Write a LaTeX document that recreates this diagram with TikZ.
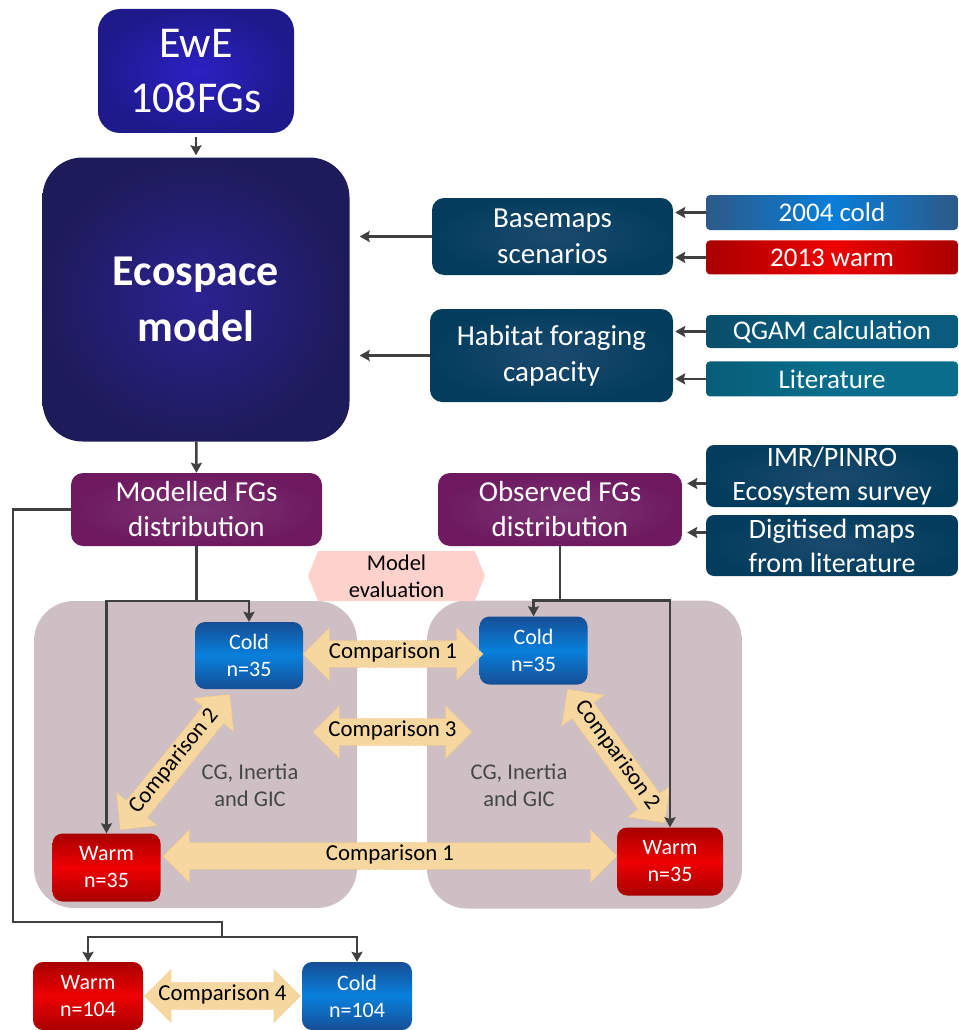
\documentclass[tikz,border=0pt]{standalone}
\usepackage{fontspec}
\setmainfont{Carlito}
\usetikzlibrary{positioning,arrows.meta,calc,shapes.arrows,shapes.symbols}
\definecolor{EwEBlue}{RGB}{44,32,196}
\definecolor{EwEEdge}{RGB}{30,26,140}
\definecolor{EcoCore}{RGB}{44,34,146}
\definecolor{EcoEdge}{RGB}{30,27,90}
\definecolor{InputBlue}{RGB}{3,61,94}
\definecolor{InputCore}{RGB}{28,74,110}
\definecolor{ScnCold}{RGB}{8,126,218}
\definecolor{ScnColdEdge}{RGB}{44,90,136}
\definecolor{TealA}{RGB}{10,92,126}
\definecolor{TealB}{RGB}{9,110,140}
\definecolor{ColdMid}{RGB}{8,128,220}
\definecolor{ColdEdge}{RGB}{22,78,150}
\definecolor{WarmMid}{RGB}{238,0,0}
\definecolor{WarmEdge}{RGB}{168,0,0}
\definecolor{DistPurple}{RGB}{110,25,96}
\definecolor{DistCore}{RGB}{124,54,116}
\definecolor{EvalPink}{RGB}{253,209,204}
\definecolor{PanelGrey}{RGB}{206,191,196}
\definecolor{CompTan}{RGB}{247,215,160}
\definecolor{CompEdge}{RGB}{238,198,140}
\definecolor{LinkGrey}{RGB}{64,64,64}
\definecolor{NoteGrey}{RGB}{70,70,70}

\begin{document}
\begin{tikzpicture}[x=1pt, y=-1pt, every node/.style={align=center, text=white, inner sep=0pt},
  link/.style={line width=2.6pt, LinkGrey},
  tolink/.style={link, -{Stealth[length=10pt, width=11pt, inset=1.5pt]}},
  srcbox/.style={rounded corners=12pt, inner color=InputCore, outer color=InputBlue,
                 font=\fontsize{29}{36}\selectfont},
  scnbox/.style={rounded corners=4pt, minimum width=252pt, font=\fontsize{27}{32}\selectfont},
  distbox/.style={rounded corners=12pt, inner color=DistCore, outer color=DistPurple,
                  minimum height=73pt, font=\fontsize{29}{35}\selectfont},
  panel/.style={rounded corners=40pt, fill=PanelGrey},
  coldbox/.style={rounded corners=10pt, top color=ColdEdge, bottom color=ColdEdge, middle color=ColdMid,
                  minimum width=108pt, minimum height=68pt, font=\fontsize{22}{27}\selectfont},
  warmbox/.style={rounded corners=10pt, top color=WarmEdge, bottom color=WarmEdge, middle color=WarmMid,
                  minimum width=108pt, minimum height=68pt, font=\fontsize{22}{27}\selectfont},
  cmp/.style={double arrow, double arrow head extend=13pt, fill=CompTan, draw=CompEdge,
              densely dotted, line width=0.8pt, text=black, font=\fontsize{22.8}{26}\selectfont,
              text height=13pt, text depth=4pt, inner ysep=4.5pt, inner xsep=0pt},
  note/.style={text=NoteGrey, font=\fontsize{22.5}{27}\selectfont}]
  \useasboundingbox (0,0) rectangle (958,1030);

  % comparison panels
  \node[panel, minimum width=323pt, minimum height=307pt] (lpanel) at (195.5,754.5) {};
  \node[panel, minimum width=315pt, minimum height=308pt] (rpanel) at (584.5,754.5) {};

  % model chain
  \node[rounded corners=22pt, inner color=EwEBlue, outer color=EwEEdge, minimum width=196pt,
        minimum height=124pt, font=\fontsize{44}{55}\selectfont] (ewe) at (196,71) {EwE\\108FGs};
  \node[rounded corners=40pt, inner color=EcoCore, outer color=EcoEdge, minimum width=307pt,
        minimum height=284pt, font=\fontsize{44}{56}\selectfont\bfseries] (eco) at (196,299.5) {Ecospace\\model};
  \node[srcbox, minimum width=241pt, minimum height=77pt] (bmap) at (552.5,236.5) {Basemaps\\scenarios};
  \node[srcbox, minimum width=243pt, minimum height=93pt] (habit) at (551.5,355.5) {Habitat foraging\\capacity};

  % inputs on the right
  \node[scnbox, minimum height=35pt, left color=ScnColdEdge, right color=ScnColdEdge,
        middle color=ScnCold] (cold04) at (832,212.5) {2004 cold};
  \node[scnbox, minimum height=34pt, left color=WarmEdge, right color=WarmEdge,
        middle color=WarmMid, below=10pt of cold04] (warm13) {2013 warm};
  \node[scnbox, minimum height=33pt, left color=TealA!85!black, right color=TealA,
        middle color=TealA] (qgam) at (832,331.5) {QGAM calculation};
  \node[scnbox, minimum height=35pt, left color=TealB!85!black, right color=TealB,
        middle color=TealB, below=13pt of qgam] (litr) {Literature};

  % distributions
  \node[distbox, minimum width=251pt] (modfg) at (196.5,509.5) {Modelled FGs\\distribution};
  \node[distbox, minimum width=244pt] (obsfg) at (560,509.5) {Observed FGs\\distribution};
  \node[srcbox, rounded corners=8pt, minimum width=252pt, minimum height=62pt,
        font=\fontsize{28}{34}\selectfont] (imr) at (832,476) {IMR/PINRO\\Ecosystem survey};
  \node[srcbox, rounded corners=8pt, minimum width=252pt, minimum height=61pt,
        font=\fontsize{28}{34}\selectfont] (digi) at (832,545.5) {Digitised maps\\from literature};
  \node[signal, signal to=west and east, signal pointer angle=136, fill=EvalPink, text=black,
        minimum width=177pt, minimum height=50pt, font=\fontsize{22.5}{27}\selectfont] (modeval) at (396.5,576) {Model\\evaluation};

  % seasons
  \node[coldbox, minimum height=67pt] (mcold) at (249,655.5) {Cold\\n=35};
  \node[coldbox] (ocold) at (533.5,650.5) {Cold\\n=35};
  \node[warmbox] (mwarm) at (106.5,867.5) {Warm\\n=35};
  \node[warmbox, minimum width=106pt] (owarm) at (670,861.5) {Warm\\n=35};
  \node[warmbox, minimum width=110pt] (warm104) at (88,996) {Warm\\n=104};
  \node[coldbox, minimum width=110pt] (cold104) at (357,996) {Cold\\n=104};
  \node[note] (lcg) at (250,785) {CG, Inertia\\and GIC};
  \node[note] (rcg) at (519,785) {CG, Inertia\\and GIC};

  % comparisons
  \node[cmp, minimum height=180pt] (cmp1a) at (393,654) {Comparison 1};
  \node[cmp, minimum height=159pt] (cmp3) at (392.5,732) {Comparison 3};
  \node[cmp, minimum height=454pt] (cmp1b) at (390,856) {Comparison 1};
  \node[cmp, minimum height=174pt, rotate=51] (cmp2a) at (175,762) {Comparison 2};
  \node[cmp, minimum height=165pt, rotate=-54] (cmp2b) at (616,756) {Comparison 2};
  \node[cmp, minimum height=155pt] (cmp4) at (222.5,996) {Comparison 4};

  % connectors
  \draw[tolink, shorten <=4pt, shorten >=2pt] (ewe) -- (eco);
  \draw[tolink, shorten >=10pt] (bmap) -- (bmap -| eco.east);
  \draw[tolink, shorten >=10pt] (habit) -- (habit -| eco.east);
  \draw[tolink, shorten >=2pt] (cold04) -- (cold04 -| bmap.east);
  \draw[tolink, shorten >=2pt] (warm13) -- (warm13 -| bmap.east);
  \draw[tolink, shorten >=2pt] (qgam) -- (qgam -| habit.east);
  \draw[tolink, shorten >=2pt] (litr) -- (litr -| habit.east);
  \draw[tolink] (eco) -- (modfg);
  \draw[tolink, shorten >=5pt] ([yshift=26pt]obsfg.east -| imr.west) -- ([yshift=26pt]obsfg.east);
  \draw[tolink, shorten >=5pt] ([yshift=-23pt]obsfg.east -| digi.west) -- ([yshift=-23pt]obsfg.east);

  \coordinate (mjoin) at (modfg.south |- lpanel.north);
  \coordinate (ojoin) at (obsfg.south |- rpanel.north);
  \draw[tolink] (modfg) -- (mjoin) -| (mwarm);
  \draw[tolink] (mjoin) -| (mcold);
  \draw[tolink] (obsfg) -- (ojoin) -| (ocold);
  \draw[tolink] (ojoin) -| (owarm);

  \coordinate (loop) at (13,922);
  \coordinate (split) at (222,937);
  \draw[link] (modfg.west) -| (loop) -| (split);
  \draw[tolink] (split) -| (warm104);
  \draw[tolink] (split) -| (cold104);
\end{tikzpicture}
\end{document}
